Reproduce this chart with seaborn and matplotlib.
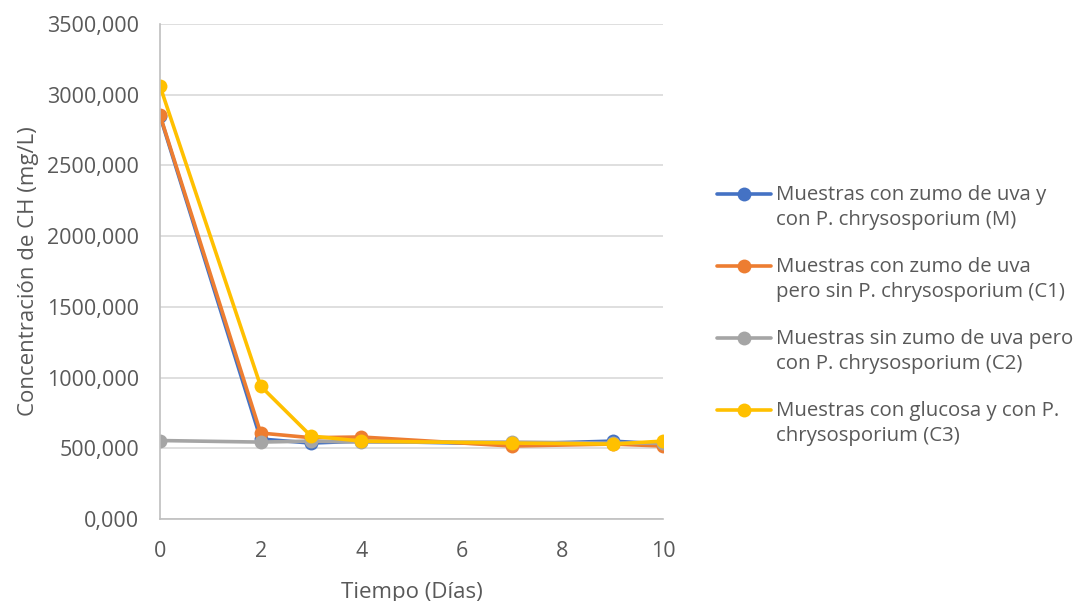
import matplotlib
matplotlib.use("Agg")
import matplotlib.pyplot as plt
from matplotlib.lines import Line2D
from matplotlib.legend_handler import HandlerLine2D
from matplotlib.ticker import FuncFormatter, MultipleLocator
import numpy as np
import seaborn as sns
import pandas as pd

# Sampling days
dias = [0, 2, 3, 4, 7, 9, 10]

# CH concentration (mg/L) for each sample group
serie_m = [2850, 566, 537, 551, 530, 551, 530]
serie_c1 = [2856, 608, 575, 580, 516, 530, 516]
serie_c2 = [555, 544, 551, 544, 544, 537, 537]
serie_c3 = [3061, 940, 587, 551, 537, 530, 551]

etiquetas = [
    "Muestras con zumo de uva y\ncon P. chrysosporium (M)",
    "Muestras con zumo de uva\npero sin P. chrysosporium (C1)",
    "Muestras sin zumo de uva pero\ncon P. chrysosporium (C2)",
    "Muestras con glucosa y con P.\nchrysosporium (C3)",
]
colores = ["#4472C4", "#ED7D31", "#A5A5A5", "#FFC000"]

registros = []
for nombre, valores in zip(etiquetas, [serie_m, serie_c1, serie_c2, serie_c3]):
    for d, v in zip(dias, valores):
        registros.append({"Tiempo": d, "CH": v, "Grupo": nombre})
df = pd.DataFrame(registros)


class HandlerPrimeraLinea(HandlerLine2D):
    """Line handle raised so it sits beside the first text line."""

    def __init__(self, dy, **kw):
        super().__init__(**kw)
        self.dy = dy

    def create_artists(self, legend, orig_handle, xdescent, ydescent,
                       width, height, fontsize, trans):
        arts = super().create_artists(legend, orig_handle, xdescent, ydescent,
                                      width, height, fontsize, trans)
        for a in arts:
            a.set_ydata(np.asarray(a.get_ydata(), dtype=float) + self.dy)
        return arts


sns.set_theme(style="white")
plt.rcParams["font.family"] = ["Open Sans", "DejaVu Sans"]
texto = "#595959"

fig = plt.figure(figsize=(10.82, 6.01), dpi=100)
ax = fig.add_axes([0.1479, 0.1364, 0.4649, 0.8236])

sns.lineplot(
    data=df, x="Tiempo", y="CH", hue="Grupo", hue_order=etiquetas,
    palette=colores, marker="o", markersize=10, markeredgewidth=0,
    linewidth=2.6, ax=ax, legend=True,
)

ax.set_xlim(0, 10)
ax.set_ylim(0, 3500)
ax.xaxis.set_major_locator(MultipleLocator(2))
ax.yaxis.set_major_locator(MultipleLocator(500))
ax.yaxis.set_major_formatter(FuncFormatter(lambda v, p: f"{v:.3f}".replace(".", ",")))
ax.grid(axis="y", color="#D9D9D9", linewidth=1.2)
ax.set_axisbelow(True)
for lado in ["top", "right"]:
    ax.spines[lado].set_visible(False)
for lado in ["left", "bottom"]:
    ax.spines[lado].set_color("#BFBFBF")
    ax.spines[lado].set_linewidth(1.2)
ax.tick_params(axis="both", length=0, labelsize=15.5, colors=texto, pad=15)
ax.tick_params(axis="x", pad=16)
for lab in ax.get_xticklabels() + ax.get_yticklabels():
    lab.set_clip_on(False)

ax.set_xlabel("Tiempo (Días)", fontsize=16, color=texto, labelpad=14)
ax.set_ylabel("Concentración de CH (mg/L)", fontsize=16, color=texto, labelpad=6)

handles, labels = ax.get_legend_handles_labels()
ax.get_legend().remove()
leg = fig.legend(
    handles, labels, loc="center left", bbox_to_anchor=(0.655, 0.475),
    frameon=False, fontsize=14.7, handlelength=2.65, handletextpad=0.25,
    labelspacing=1.3, borderaxespad=0,
    handler_map={Line2D: HandlerPrimeraLinea(10.0)},
)
for t in leg.get_texts():
    t.set_color(texto)
    t.set_linespacing(1.37)

fig.savefig("out.png", dpi=100)
